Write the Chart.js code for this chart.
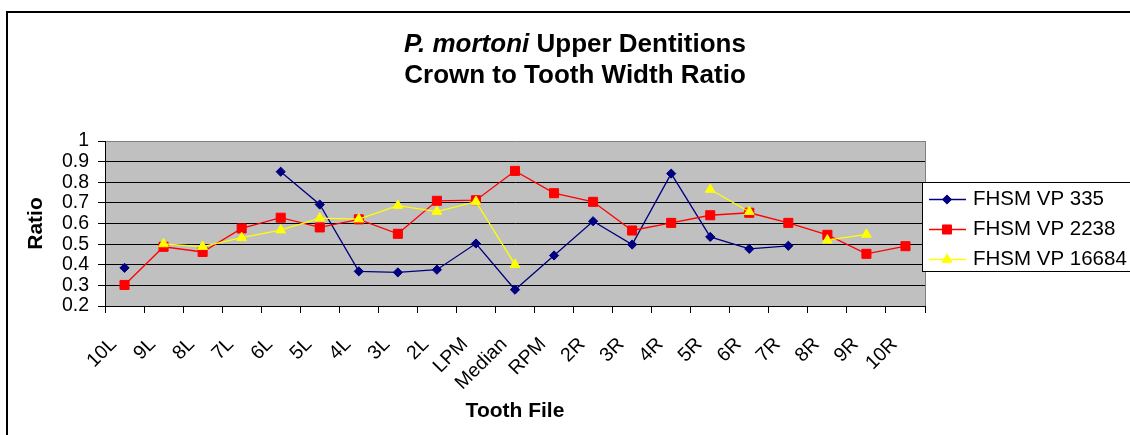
<!DOCTYPE html>
<html>
<head>
<meta charset="utf-8">
<script src="https://cdn.jsdelivr.net/npm/chart.js@4.4.1/dist/chart.umd.min.js"></script>
<style>
  body { margin: 0; background: #fff; }
  canvas { display: block; }
</style>
</head>
<body>
<canvas id="ratioChart" width="1130" height="435"></canvas>
<script>
const toothFiles = ['10L', '9L', '8L', '7L', '6L', '5L', '4L', '3L', '2L', 'LPM', 'Median',
    'RPM', '2R', '3R', '4R', '5R', '6R', '7R', '8R', '9R', '10R'];
const ratioTicks = [0.2, 0.3, 0.4, 0.5, 0.6, 0.7, 0.8, 0.9, 1];

const vp335 = [0.385, null, null, null, 0.851, 0.692, 0.368, 0.363, 0.376, 0.503, 0.279,
    0.445, 0.611, 0.498, 0.842, 0.535, 0.477, 0.492, null, null, null];
const vp2238 = [0.302, 0.487, 0.462, 0.576, 0.628, 0.581, 0.620, 0.550, 0.710, 0.713, 0.855,
    0.747, 0.705, 0.566, 0.603, 0.640, 0.652, 0.603, 0.545, 0.453, 0.490];
const vp16684 = [null, 0.501, 0.488, 0.531, 0.568, 0.626, 0.621, 0.687, 0.658, 0.706, 0.401,
    null, null, null, null, 0.765, 0.657, null, 0.519, 0.547, null];

const FONT = '"Liberation Sans", Arial, sans-serif';

// small marker painter for the legend keys
function drawMarker(ctx, style, x, y, r) {
    ctx.beginPath();
    if (style === 'rectRot') {
        ctx.moveTo(x, y - r); ctx.lineTo(x + r, y); ctx.lineTo(x, y + r); ctx.lineTo(x - r, y);
    } else if (style === 'rect') {
        const s = r * Math.SQRT1_2;
        ctx.rect(x - s, y - s, 2 * s, 2 * s);
    } else {
        ctx.moveTo(x, y - r);
        ctx.lineTo(x + r * 0.866, y + r / 2);
        ctx.lineTo(x - r * 0.866, y + r / 2);
    }
    ctx.closePath();
    ctx.fill();
    ctx.stroke();
}

const excelLook = {
    id: 'excelLook',
    beforeDraw(chart) {
        const ctx = chart.ctx;
        const a = chart.chartArea;
        ctx.save();
        ctx.fillStyle = '#fff';
        ctx.fillRect(0, 0, chart.width, chart.height);

        // outer frame (runs off the right and bottom edges)
        ctx.strokeStyle = '#000';
        ctx.lineWidth = 2;
        ctx.strokeRect(7, 12, chart.width + 20, chart.height + 20);

        // grey plot area
        ctx.fillStyle = '#C0C0C0';
        ctx.fillRect(a.left, a.top, a.right - a.left, a.bottom - a.top);
        ctx.strokeStyle = '#808080';
        ctx.lineWidth = 1;
        ctx.beginPath();
        ctx.moveTo(a.right + 0.5, a.top);
        ctx.lineTo(a.right + 0.5, a.bottom);
        ctx.stroke();

        // two line title, species name in italics
        const cx = 575;
        ctx.fillStyle = '#000';
        ctx.textBaseline = 'alphabetic';
        ctx.textAlign = 'left';
        const italic = 'italic bold 26px ' + FONT;
        const bold = 'bold 26px ' + FONT;
        ctx.font = italic;
        const w1 = ctx.measureText('P. mortoni').width;
        ctx.font = bold;
        const w2 = ctx.measureText(' Upper Dentitions').width;
        let x = cx - (w1 + w2) / 2;
        ctx.font = italic;
        ctx.fillText('P. mortoni', x, 52);
        ctx.font = bold;
        ctx.fillText(' Upper Dentitions', x + w1, 52);
        ctx.textAlign = 'center';
        ctx.fillText('Crown to Tooth Width Ratio', cx, 83);
        ctx.restore();
    },
    afterDraw(chart) {
        const ctx = chart.ctx;
        ctx.save();
        ctx.fillStyle = '#fff';
        ctx.fillRect(922.5, 182.5, 300, 89);
        ctx.strokeStyle = '#000';
        ctx.lineWidth = 1;
        ctx.strokeRect(922.5, 182.5, 300, 89);
        ctx.font = '20.5px ' + FONT;
        ctx.textBaseline = 'middle';
        ctx.textAlign = 'left';
        chart.data.datasets.forEach((ds, i) => {
            const y = 199.5 + i * 30;
            ctx.strokeStyle = ds.borderColor;
            ctx.lineWidth = 1.5;
            ctx.beginPath();
            ctx.moveTo(929, y);
            ctx.lineTo(966, y);
            ctx.stroke();
            ctx.fillStyle = ds.pointBackgroundColor;
            ctx.lineWidth = 1;
            drawMarker(ctx, ds.pointStyle, 947, y, ds.pointRadius);
            ctx.fillStyle = '#000';
            ctx.fillText(ds.label, 973, y);
        });
        ctx.restore();
    }
};

function series(label, data, color, style, radius, order) {
    return {
        label: label,
        data: data,
        borderColor: color,
        backgroundColor: color,
        pointBackgroundColor: color,
        pointBorderColor: color,
        pointStyle: style,
        pointRadius: radius,
        pointHoverRadius: radius,
        pointBorderWidth: 1,
        borderWidth: 1.3,
        tension: 0,
        spanGaps: false,
        order: order
    };
}

new Chart(document.getElementById('ratioChart'), {
    type: 'line',
    data: {
        labels: toothFiles,
        datasets: [
            series('FHSM VP 335', vp335, '#000080', 'rectRot', 4.6, 2),
            series('FHSM VP 2238', vp2238, '#FF0000', 'rect', 6.4, 1),
            series('FHSM VP 16684', vp16684, '#FFFF00', 'triangle', 5.6, 0)
        ]
    },
    options: {
        responsive: false,
        animation: false,
        devicePixelRatio: 1,
        layout: {
            padding: { top: 141, left: 8, right: 205, bottom: 10 }
        },
        plugins: {
            legend: { display: false },
            title: { display: false },
            tooltip: { enabled: false }
        },
        scales: {
            x: {
                type: 'category',
                offset: true,
                afterFit: (scale) => { scale.height = 119; },
                grid: {
                    offset: true,
                    drawOnChartArea: false,
                    drawTicks: true,
                    tickLength: 7,
                    color: '#000'
                },
                border: { color: '#000', width: 1 },
                ticks: {
                    autoSkip: false,
                    maxRotation: 45,
                    minRotation: 45,
                    padding: 20,
                    labelOffset: -11,
                    color: '#000',
                    font: { family: FONT, size: 19.5 }
                },
                title: {
                    display: true,
                    text: 'Tooth File',
                    color: '#000',
                    font: { family: FONT, size: 21, weight: 'bold' },
                    padding: { top: 0, bottom: 1 }
                }
            },
            y: {
                min: 0.2,
                max: 1,
                afterFit: (scale) => { scale.width = 97; },
                afterBuildTicks: (scale) => {
                    scale.ticks = ratioTicks.map(v => ({ value: v }));
                },
                grid: {
                    color: (c) => (c.tick && c.tick.value === 1 ? '#808080' : '#000'),
                    tickColor: '#000',
                    tickLength: 7,
                    lineWidth: 1
                },
                border: { color: '#000', width: 1 },
                ticks: {
                    autoSkip: false,
                    padding: 9,
                    color: '#000',
                    font: { family: FONT, size: 19.5 },
                    callback: (v) => String(Math.round(v * 10) / 10)
                },
                title: {
                    display: true,
                    text: 'Ratio',
                    color: '#000',
                    font: { family: FONT, size: 21, weight: 'bold' },
                    padding: { top: 16, bottom: 0 }
                }
            }
        }
    },
    plugins: [excelLook]
});
</script>
</body>
</html>
